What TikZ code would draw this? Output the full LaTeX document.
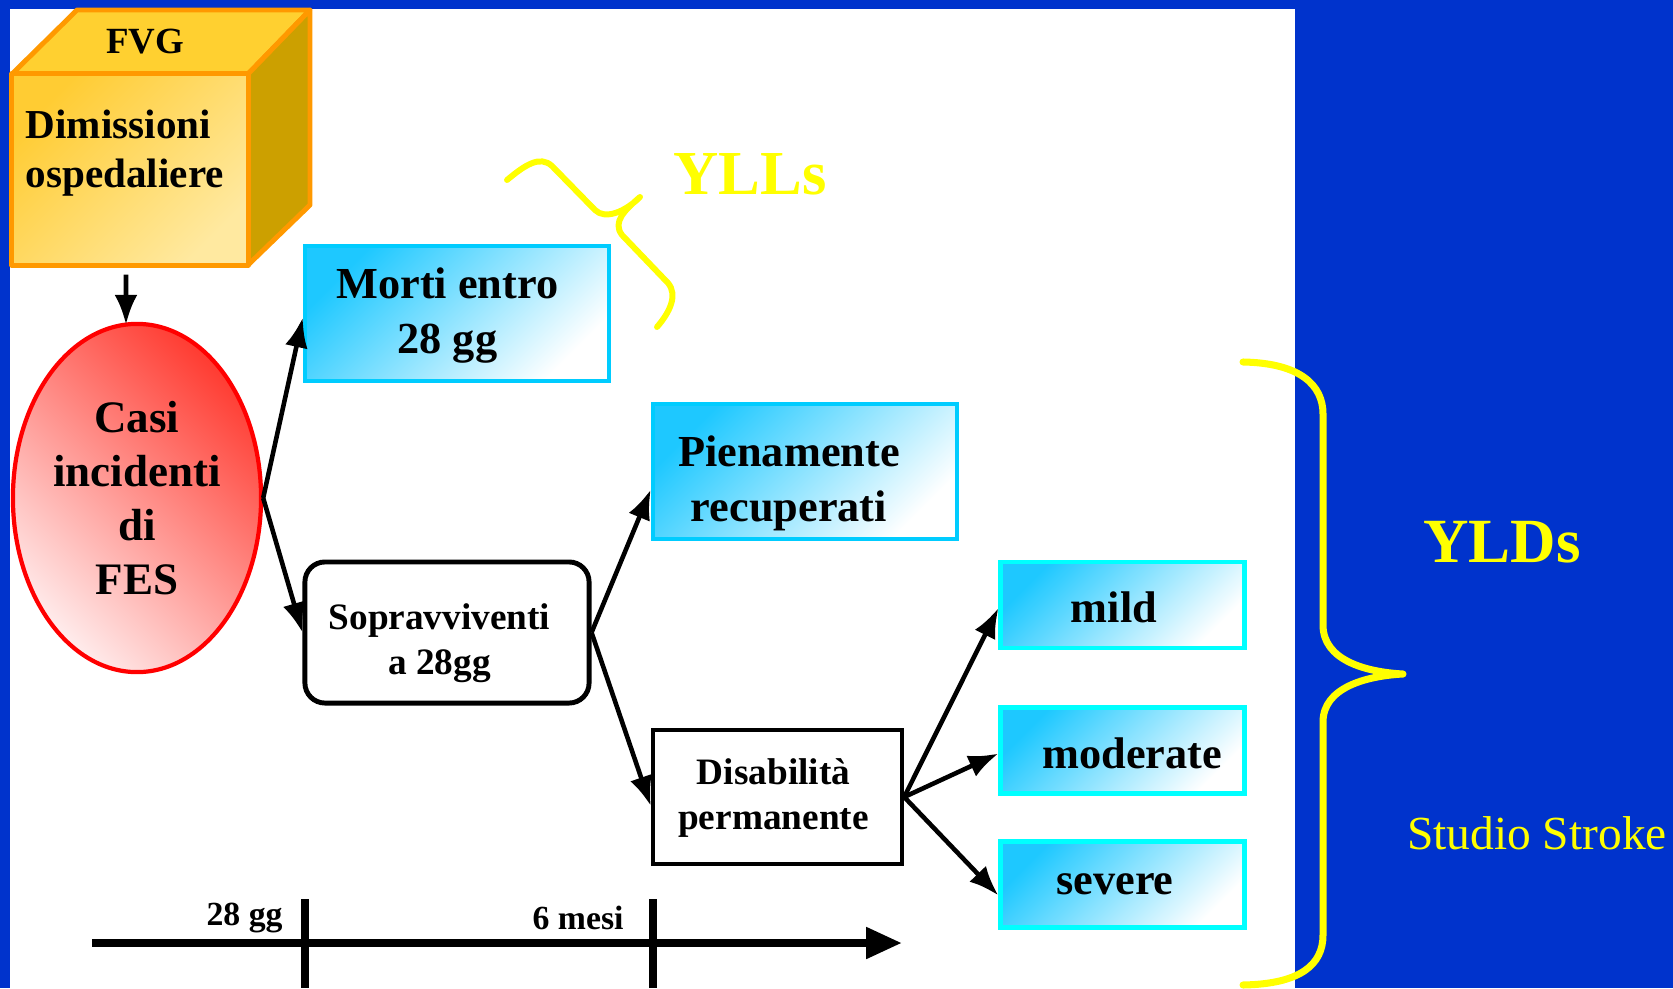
\documentclass[tikz,border=0pt]{standalone}
\usepackage{fontspec}
\setmainfont{Liberation Serif}
\usetikzlibrary{arrows.meta,shapes.geometric,calc}
\definecolor{bgblue}{RGB}{0,51,204}
\definecolor{cyanA}{RGB}{0,204,255}
\definecolor{cyanB}{RGB}{0,255,255}
\definecolor{cyanfill}{RGB}{30,200,255}
\definecolor{cubeorange}{RGB}{255,153,0}
\definecolor{cubetop}{RGB}{255,208,48}
\definecolor{cubefront}{RGB}{255,204,51}
\definecolor{cubeside}{RGB}{204,160,0}
\definecolor{cubelight}{RGB}{255,233,160}
\definecolor{ellred}{RGB}{255,0,0}
\definecolor{elldark}{RGB}{255,60,50}
\definecolor{elllight}{RGB}{255,235,235}
\definecolor{ylw}{RGB}{255,255,0}
\begin{document}
\begin{tikzpicture}[x=0.01cm,y=-0.01cm,
  bigtxt/.style={align=center, inner sep=0pt, font=\fontsize{12.6}{15.5}\selectfont\bfseries},
  smalltxt/.style={align=center, inner sep=0pt, font=\fontsize{10.6}{12.8}\selectfont\bfseries},
  cyanbox/.style={draw=cyanA, line width=1.2pt, top color=cyanfill, bottom color=white, shading angle=45,
    minimum width=3.04cm, minimum height=1.35cm, inner sep=0pt},
  sevbox/.style={draw=cyanB, line width=1.4pt, top color=cyanfill, bottom color=white, shading angle=45,
    minimum width=2.43cm, minimum height=0.86cm, inner sep=0pt},
  blackbox/.style={draw=black, fill=white, inner sep=0pt},
  arr/.style={line width=1.3pt, -{Latex[length=8.5pt,width=6.5pt]}},
  bracestyle/.style={draw=ylw, line cap=round, line join=round},
  cubeedge/.style={draw=cubeorange, line width=1.4pt, line join=round}
]
\useasboundingbox (0,0) rectangle (1673,988);
% background
\fill[bgblue] (0,0) rectangle (1673,988);
\fill[white] (10,9) rectangle (1295,988);

% cube
\filldraw[cubeedge, fill=cubetop] (12,74) -- (77,10) -- (310,10) -- (248,74) -- cycle;
\filldraw[cubeedge, fill=cubeside] (248,74) -- (310,10) -- (310,205) -- (248,265) -- cycle;
\node[cubeedge, top color=cubefront, bottom color=cubelight, shading angle=45,
  minimum width=2.36cm, minimum height=1.91cm, inner sep=0pt] (dim) at (130,169.5) {};
\node[font=\fontsize{10.5}{12}\selectfont\bfseries] (fvg) at (145,42) {FVG};
\node[anchor=west, align=left, inner sep=0pt, font=\fontsize{11.7}{14}\selectfont\bfseries] (dimtxt) at (25,153) {Dimissioni\\ospedaliere};

% ellipse
\node[ellipse, draw=ellred, line width=1.2pt, top color=elldark, bottom color=elllight, shading angle=-45,
  minimum width=2.48cm, minimum height=3.48cm, inner sep=0pt, align=center,
  font=\fontsize{12.8}{15.3}\selectfont\bfseries] (casi) at (137,498) {Casi\\incidenti\\di\\FES};

% boxes
\node[cyanbox, label={[bigtxt, xshift=-0.096cm, yshift=-0.02cm]center:Morti entro\\28 gg}] (morti) at (457,313.5) {};
\node[cyanbox, label={[bigtxt, xshift=-0.16cm, yshift=-0.12cm]center:Pienamente\\recuperati}] (pien) at (805,471.5) {};
\node[blackbox, line width=1.4pt, rounded corners=0.2cm, minimum width=2.84cm, minimum height=1.41cm,
  label={[smalltxt, xshift=-0.075cm, yshift=-0.11cm]center:Sopravviventi\\a 28gg}] (sop) at (447,632.5) {};
\node[blackbox, line width=1.2pt, minimum width=2.49cm, minimum height=1.34cm,
  label={[smalltxt, xshift=-0.04cm, yshift=-0.01cm]center:Disabilità\\permanente}] (dis) at (777.5,797) {};
\node[sevbox, label={[bigtxt, xshift=-0.085cm, yshift=-0.02cm]center:mild}] (mild) at (1122.5,605) {};
\node[sevbox, label={[bigtxt, xshift=0.096cm, yshift=-0.03cm]center:moderate}] (mod) at (1122.5,750.5) {};
\node[sevbox, label={[bigtxt, xshift=-0.075cm]center:severe}] (sev) at (1122.5,884.5) {};

% arrows
\draw[arr] ([xshift=-0.04cm,yshift=-0.07cm]dim.south) -- ([xshift=-0.11cm,yshift=-0.03cm]casi.north);
\draw[arr] (casi.east) -- ([yshift=-0.04cm]morti.west);
\draw[arr] (casi.east) -- (sop.west);
\draw[arr] (sop.east) -- ([yshift=-0.18cm]pien.west);
\draw[arr] (sop.east) -- ([yshift=-0.09cm]dis.west);
\draw[arr] (dis.east) -- ([yshift=-0.03cm]mild.west);
\draw[arr] (dis.east) -- ([yshift=-0.03cm]mod.west);
\draw[arr] (dis.east) -- ([yshift=-0.11cm]sev.west);

% timeline
\coordinate (tl0) at (92,943);
\coordinate (tl1) at (902,943);
\coordinate (ta1) at (305,899);
\coordinate (tb1) at (305,988);
\coordinate (ta2) at (653,899);
\coordinate (tb2) at (653,988);
\draw[line width=2.3pt, -{Triangle[length=10.2pt,width=8.5pt]}] (tl0) -- (tl1);
\draw[line width=2.3pt] (ta1) -- (tb1);
\draw[line width=2.3pt] (ta2) -- (tb2);
\node[anchor=east, font=\fontsize{9.6}{11}\selectfont\bfseries] (l28) at (295,918) {28 gg};
\node[anchor=east, font=\fontsize{9.6}{11}\selectfont\bfseries] (l6) at (636,918) {6 mesi};

% YLLs brace
\draw[bracestyle, line width=1.7pt] (507,180) .. controls (525,165) and (540,155) .. (552,166) -- (595,210)
  .. controls (605,220) and (625,212) .. (640,197)
  .. controls (625,210) and (612,222) .. (622,235) -- (668,283)
  .. controls (678,295) and (670,312) .. (657,327);
\node[text=ylw, font=\fontsize{17.8}{20}\selectfont\bfseries] (ylls) at (750,174) {YLLs};

% YLDs brace
\draw[bracestyle, line width=2pt] (1243,362) .. controls (1300,363) and (1323,385) .. (1323,414) -- (1323,625)
  .. controls (1323,660) and (1365,672) .. (1403,674)
  .. controls (1365,676) and (1323,688) .. (1323,722) -- (1323,935)
  .. controls (1323,965) and (1300,984) .. (1243,985);
\node[text=ylw, font=\fontsize{17.9}{20}\selectfont\bfseries] (ylds) at (1502,542) {YLDs};
\node[text=ylw, font=\fontsize{13.5}{15}\selectfont] (studio) at (1537,833) {Studio Stroke};
\end{tikzpicture}
\end{document}
